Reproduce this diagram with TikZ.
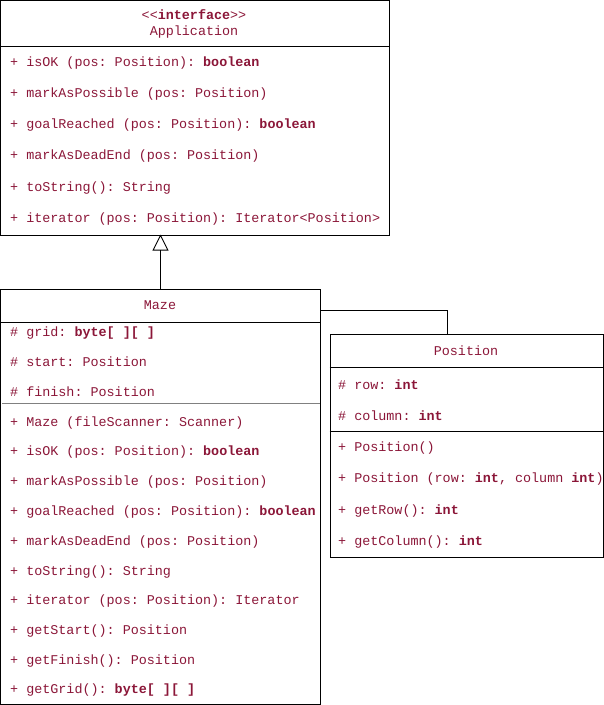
\documentclass[tikz,border=0pt]{standalone}
\usepackage{fontspec}
\setmonofont{Liberation Mono}
\usetikzlibrary{arrows.meta}
\definecolor{txt}{RGB}{139,22,56}
\tikzset{
  box/.style={draw=black, line width=0.9bp, anchor=north west, inner sep=0pt},
  sep/.style={draw=black, line width=0.9bp},
  lbl/.style={anchor=mid west, inner sep=0pt, yshift=-2bp, text=txt, font=\ttfamily\fontsize{13.4bp}{16bp}\selectfont},
  ttl/.style={anchor=mid, inner sep=0pt, yshift=-2bp, text=txt, font=\ttfamily\fontsize{13.4bp}{16bp}\selectfont},
  conn/.style={draw=black, line width=0.9bp}
}
\begin{document}
\begin{tikzpicture}[x=1bp,y=-1bp]
\useasboundingbox (0,0) rectangle (604,705);
% Application
\node[box, minimum width=388bp, minimum height=234bp] (app) at (0.5,0.5) {};
\draw[sep] (0.5,46) -- (388.5,46);
\node[ttl] (appst) at (194,15) {<<\textbf{interface}>>};
\node[ttl] (appn) at (194,31) {Application};
\node[lbl] (a1) at (10,62) {+ isOK (pos: Position): \textbf{boolean}};
\node[lbl] (a2) at (10,93) {+ markAsPossible (pos: Position)};
\node[lbl] (a3) at (10,124) {+ goalReached (pos: Position): \textbf{boolean}};
\node[lbl] (a4) at (10,155) {+ markAsDeadEnd (pos: Position)};
\node[lbl] (a5) at (10,187) {+ toString(): String};
\node[lbl] (a6) at (10,218) {+ iterator (pos: Position): Iterator<Position>};
% Maze
\node[box, minimum width=319.5bp, minimum height=415bp] (maze) at (0.5,289) {};
\draw[sep] (0.5,322) -- (320,322);
\draw[draw=gray, line width=1.3bp] (2,403.5) -- (320,403.5);
\node[ttl] (mazen) at (160,305) {Maze};
\node[lbl] (m1) at (10,332) {\# grid: \textbf{byte[ ][ ]}};
\node[lbl] (m2) at (10,362) {\# start: Position};
\node[lbl] (m3) at (10,392) {\# finish: Position};
\node[lbl] (m4) at (10,422) {+ Maze (fileScanner: Scanner)};
\node[lbl] (m5) at (10,451) {+ isOK (pos: Position): \textbf{boolean}};
\node[lbl] (m6) at (10,481) {+ markAsPossible (pos: Position)};
\node[lbl] (m7) at (10,511) {+ goalReached (pos: Position): \textbf{boolean}};
\node[lbl] (m8) at (10,541) {+ markAsDeadEnd (pos: Position)};
\node[lbl] (m9) at (10,571) {+ toString(): String};
\node[lbl] (m10) at (10,600) {+ iterator (pos: Position): Iterator};
\node[lbl] (m11) at (10,630) {+ getStart(): Position};
\node[lbl] (m12) at (10,660) {+ getFinish(): Position};
\node[lbl] (m13) at (10,689) {+ getGrid(): \textbf{byte[ ][ ]}};
% Position
\node[box, minimum width=273bp, minimum height=223bp] (pos) at (329.5,334) {};
\draw[sep] (329.5,367) -- (602.5,367);
\draw[sep] (329.5,431) -- (602.5,431);
\node[ttl] (posn) at (466,351) {Position};
\node[lbl] (p1) at (338,385) {\# row: \textbf{int}};
\node[lbl] (p2) at (338,416) {\# column: \textbf{int}};
\node[lbl] (p3) at (338,447) {+ Position()};
\node[lbl] (p4) at (338,478) {+ Position (row: \textbf{int}, column \textbf{int})};
\node[lbl] (p5) at (338,510) {+ getRow(): \textbf{int}};
\node[lbl] (p6) at (338,541) {+ getColumn(): \textbf{int}};
% connectors
\coordinate (gtop) at (160.5,234.5);
\coordinate (gbot) at (160.5,289);
\draw[conn, -{Triangle[open, length=16bp, width=16bp, line width=0.9bp]}] (gbot) -- (gtop);
\coordinate (as1) at (320,310.5);
\coordinate (as2) at (447.5,334);
\draw[conn] (as1) -| (as2);
\end{tikzpicture}
\end{document}
